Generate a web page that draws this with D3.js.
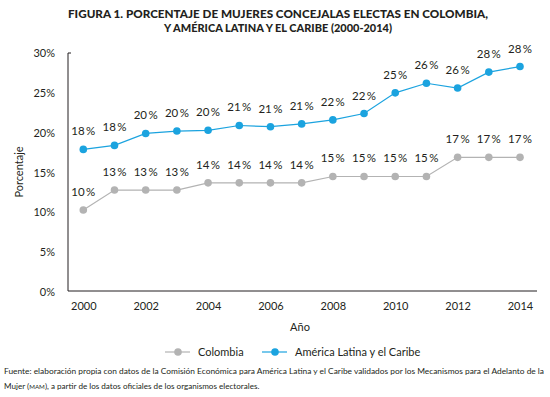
<!DOCTYPE html>
<html><head><meta charset="utf-8">
<script src="https://cdn.jsdelivr.net/npm/d3@7"></script>
<style>body{margin:0;background:#fff}svg{display:block}text{font-family:Lato,"Open Sans",sans-serif;fill:#231f20}</style>
</head><body><svg id="c" width="550" height="397"></svg>
<script>
const years = [2000,2001,2002,2003,2004,2005,2006,2007,2008,2009,2010,2011,2012,2013,2014];
const colombia = [10.3,12.8,12.8,12.8,13.7,13.7,13.7,13.7,14.5,14.5,14.5,14.5,16.9,16.9,16.9];
const alc = [17.9,18.4,19.9,20.2,20.3,20.9,20.75,21.1,21.6,22.4,25.0,26.2,25.6,27.6,28.3];
const colombiaLabels = ["10 %","13 %","13 %","13 %","14 %","14 %","14 %","14 %","15 %","15 %","15 %","15 %","17 %","17 %","17 %"];
const alcLabels = ["18 %","18 %","20 %","20 %","20 %","21 %","21 %","21 %","22 %","22 %","25 %","26 %","26 %","28 %","28 %"];
const yTicks = [0,5,10,15,20,25,30];
const xTicks = [2000,2002,2004,2006,2008,2010,2012,2014];
const seriesNames = ["Colombia","América Latina y el Caribe"];
const colors = ["#b3b3b3","#1ba3df"];

const svg = d3.select("#c");
const x = d3.scaleLinear().domain([2000,2014]).range([83.3,520]);
const y = d3.scaleLinear().domain([0,30]).range([292,53]);

// title
const t = svg.append("text").attr("text-anchor","middle").style("font-weight","900").style("font-size","11.5px");
t.append("tspan").attr("x",278).attr("y",18).attr("textLength",420).attr("lengthAdjust","spacingAndGlyphs").text("FIGURA 1. PORCENTAJE DE MUJERES CONCEJALAS ELECTAS EN COLOMBIA,");
t.append("tspan").attr("x",278).attr("y",32).attr("textLength",228).attr("lengthAdjust","spacingAndGlyphs").text("Y AMÉRICA LATINA Y EL CARIBE (2000-2014)");

// axes
const yAxis = d3.axisLeft(y).tickValues(yTicks).tickFormat(d=>d+"%").tickSize(0).tickPadding(13);
const gy = svg.append("g").attr("transform","translate(68,0)").call(yAxis);
gy.select(".domain").remove();
gy.selectAll("text").style("font-size","11px").style("font-family","Lato,sans-serif").attr("fill","#231f20");
svg.append("path").attr("d",`M71,${y(30)}H68V${y(0)-1}H537`).attr("fill","none").attr("stroke","#231f20").attr("stroke-width",1);

const xAxis = d3.axisBottom(x).tickValues(xTicks).tickFormat(d3.format("d")).tickSize(0).tickPadding(10);
const gx = svg.append("g").attr("transform",`translate(0,${y(0)})`).call(xAxis);
gx.select(".domain").remove();
gx.selectAll("text").style("font-size","11px").style("font-family","Lato,sans-serif").attr("fill","#231f20");

svg.append("text").attr("x",300).attr("y",331).attr("text-anchor","middle").style("font-size","11px").text("Año");
svg.append("text").attr("transform","translate(23,172) rotate(-90)").attr("text-anchor","middle").style("font-size","11px").text("Porcentaje");

// series
const series = [
  {name:seriesNames[0], values:colombia, labels:colombiaLabels, color:colors[0]},
  {name:seriesNames[1], values:alc, labels:alcLabels, color:colors[1]}
];
const line = d3.line().x((d,i)=>x(years[i])).y(d=>y(d));
series.forEach(s=>{
  const g = svg.append("g");
  g.append("path").attr("d",line(s.values)).attr("fill","none").attr("stroke",s.color).attr("stroke-width",1.2);
  g.selectAll("circle").data(s.values).join("circle")
    .attr("cx",(d,i)=>x(years[i])).attr("cy",d=>y(d)).attr("r",3.8).attr("fill",s.color);
  g.selectAll("text").data(s.values).join("text")
    .attr("x",(d,i)=>x(years[i])).attr("y",d=>y(d)-14).attr("text-anchor","middle")
    .style("font-size","11.5px").text((d,i)=>s.labels[i].replace(" ","\u2009"));
});

// legend
const legX = [165,262];
series.forEach((s,i)=>{
  const g = svg.append("g").attr("transform",`translate(${legX[i]},352)`);
  g.append("line").attr("x1",0).attr("x2",25).attr("stroke",s.color).attr("stroke-width",1.2);
  g.append("circle").attr("cx",13).attr("r",3.8).attr("fill",s.color);
  g.append("text").attr("x",33).attr("y",4).style("font-size","11px").text(s.name);
});

// source
const f = svg.append("text").style("font-size","8.1px");
f.append("tspan").attr("x",4).attr("y",374).attr("textLength",540).attr("lengthAdjust","spacingAndGlyphs")
  .text("Fuente: elaboración propia con datos de la Comisión Económica para América Latina y el Caribe validados por los Mecanismos para el Adelanto de la");
const l2 = f.append("tspan").attr("x",4).attr("y",389);
l2.append("tspan").text("Mujer (");
l2.append("tspan").style("font-size","6.2px").text("MAM");
l2.append("tspan").text("), a partir de los datos oficiales de los organismos electorales.");
</script></body></html>
